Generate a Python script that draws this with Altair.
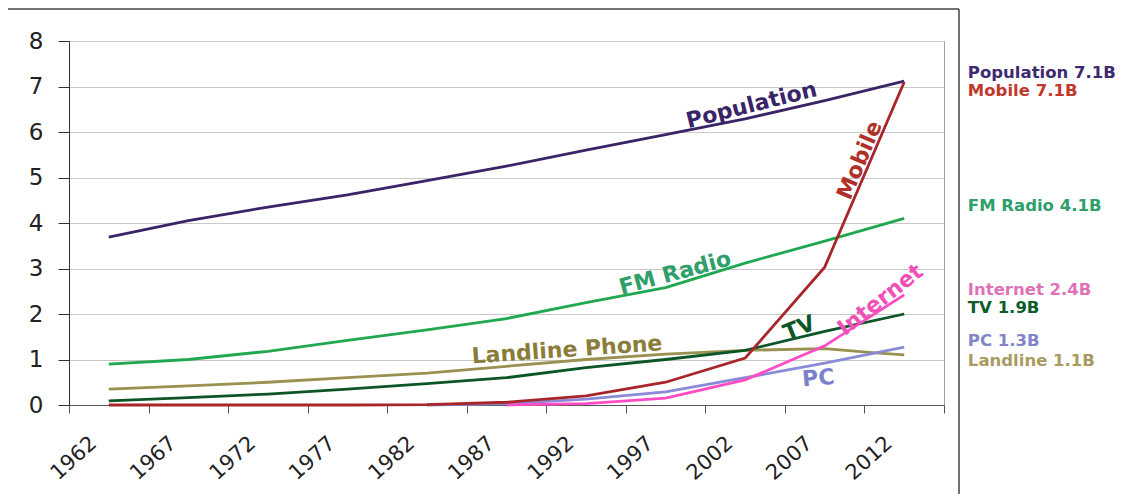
import altair as alt
import pandas as pd

# ---- data (billions) ----
years = [1962, 1967, 1972, 1977, 1982, 1987, 1992, 1997, 2002, 2007, 2012]
population = [3.69, 4.05, 4.35, 4.62, 4.93, 5.25, 5.60, 5.94, 6.29, 6.69, 7.12]
fm_radio = [0.90, 1.00, 1.18, 1.42, 1.65, 1.90, 2.25, 2.58, 3.12, 3.60, 4.10]
tv = [0.09, 0.16, 0.24, 0.35, 0.47, 0.60, 0.82, 1.00, 1.20, 1.62, 2.00]
mobile = [0.0, 0.0, 0.0, 0.0, 0.01, 0.06, 0.20, 0.50, 1.03, 3.03, 7.10]
landline_years = [1962, 1967, 1972, 1977, 1982, 1987, 1992, 1997, 2002, 2007, 2010, 2012]
landline = [0.35, 0.42, 0.50, 0.60, 0.70, 0.85, 1.00, 1.12, 1.20, 1.24, 1.15, 1.10]
internet_years = [1987, 1992, 1997, 2002, 2007, 2012]
internet = [0.0, 0.03, 0.15, 0.55, 1.30, 2.42]
pc_years = [1982, 1987, 1992, 1997, 2002, 2007, 2012]
pc = [0.0, 0.03, 0.13, 0.29, 0.60, 0.92, 1.27]

series_names = ["Population", "FM Radio", "Landline", "TV", "PC", "Internet", "Mobile"]
series_colors = ["#3a2468", "#1fa84f", "#9a9050", "#0b5527", "#8a8ad8", "#ff4cc4", "#a8262a"]

# in-plot line labels
label_text = ["Population", "Mobile", "FM Radio", "Landline Phone", "TV", "Internet", "PC"]
label_year = [2002.4, 2009.2, 1997.6, 1990.8, 2005.4, 2010.5, 2006.6]
label_value = [6.59, 5.38, 2.90, 1.21, 1.69, 2.31, 0.59]
label_angle = [346, 293, 345, 356, 338, 322, 355]
label_color = ["#3a2468", "#b0302a", "#2e9e6b", "#8a7d3a", "#0b5527", "#f050b8", "#7c80cc"]

# right-hand summary labels
legend_text = ["Population 7.1B", "Mobile 7.1B", "FM Radio 4.1B", "Internet 2.4B",
               "TV 1.9B", "PC 1.3B", "Landline 1.1B"]
legend_value = [7.29, 6.90, 4.37, 2.53, 2.13, 1.40, 0.97]
legend_color = ["#3e2a6e", "#c0392b", "#2e9e6b", "#e070b8", "#0d5c2b", "#7f85c8", "#a89a60"]
legend_year = 2016.0

x_ticks = [1959.5 + 5 * k for k in range(12)]
y_ticks = list(range(0, 9))

# ---- tables ----
rows = []
for y, v in zip(years, population):
    rows.append({"series": "Population", "year": y, "value": v})
for y, v in zip(years, fm_radio):
    rows.append({"series": "FM Radio", "year": y, "value": v})
for y, v in zip(landline_years, landline):
    rows.append({"series": "Landline", "year": y, "value": v})
for y, v in zip(years, tv):
    rows.append({"series": "TV", "year": y, "value": v})
for y, v in zip(pc_years, pc):
    rows.append({"series": "PC", "year": y, "value": v})
for y, v in zip(internet_years, internet):
    rows.append({"series": "Internet", "year": y, "value": v})
for y, v in zip(years, mobile):
    rows.append({"series": "Mobile", "year": y, "value": v})
df = pd.DataFrame(rows)

labels_df = pd.DataFrame({"text": label_text, "year": label_year, "value": label_value,
                          "angle": label_angle, "color": label_color})
legend_df = pd.DataFrame({"text": legend_text, "value": legend_value, "color": legend_color,
                          "year": [legend_year] * len(legend_text)})

xscale = alt.Scale(domain=[1959.5, 2014.5], nice=False, zero=False)
yscale = alt.Scale(domain=[0, 8], nice=False, zero=True)

x_axis = alt.Axis(
    values=x_ticks, title=None, grid=False,
    labelExpr="datum.value > 2013 ? '' : toString(datum.value + 2.5)",
    labelAngle=-42, labelAlign="right", labelBaseline="top",
    labelOffset=17, labelPadding=19, tickSize=8,
    labelFont="DejaVu Sans", labelFontSize=21, labelColor="#222222",
    domainColor="#555555", tickColor="#555555",
    labelOverlap=False, labelFlush=False, labelBound=False)
y_axis = alt.Axis(
    values=y_ticks, title=None, grid=True, gridColor="#c8c8c8",
    tickSize=11, labelPadding=15, labelFont="DejaVu Sans", labelFontSize=23,
    labelColor="#222222", domainColor="#333333", tickColor="#333333",
    labelFlush=False, labelOverlap=False)

X = lambda: alt.X("year:Q", scale=xscale, axis=x_axis)
Y = lambda: alt.Y("value:Q", scale=yscale, axis=y_axis)

lines = alt.Chart(df).mark_line(strokeWidth=2.8).encode(
    x=X(), y=Y(),
    color=alt.Color("series:N", scale=alt.Scale(domain=series_names, range=series_colors), legend=None),
    order=alt.Order("year:Q"),
    detail="series:N",
)

line_labels = alt.Chart(labels_df).mark_text(
    font="DejaVu Sans", fontWeight="bold", fontSize=22, align="center", baseline="middle"
).encode(
    x=X(), y=Y(),
    text="text:N",
    angle=alt.Angle("angle:Q", scale=None),
    color=alt.Color("color:N", scale=None),
)

legend_labels = alt.Chart(legend_df).mark_text(
    font="DejaVu Sans", fontWeight="bold", fontSize=16.5, align="left", baseline="middle"
).encode(
    x=X(), y=Y(),
    text="text:N",
    color=alt.Color("color:N", scale=None),
)

frame_src = pd.DataFrame({"k": [0]})
frame_top = alt.Chart(frame_src).mark_rule(color="#444444", strokeWidth=1.5).encode(
    x=alt.value(-61), x2=alt.value(890), y=alt.value(-32))
frame_right = alt.Chart(frame_src).mark_rule(color="#444444", strokeWidth=1.5).encode(
    x=alt.value(890), y=alt.value(-32), y2=alt.value(453))

chart = alt.layer(lines, line_labels, legend_labels, frame_top, frame_right).properties(
    width=875, height=364,
    padding={"left": 69, "top": 41, "right": 191, "bottom": 89},
    autosize=alt.AutoSizeParams(type="none"),
    background="white",
).configure_view(stroke="#a0a0a0", strokeWidth=1)

chart.save("out.html", embed_options={"renderer": "svg", "actions": False})
